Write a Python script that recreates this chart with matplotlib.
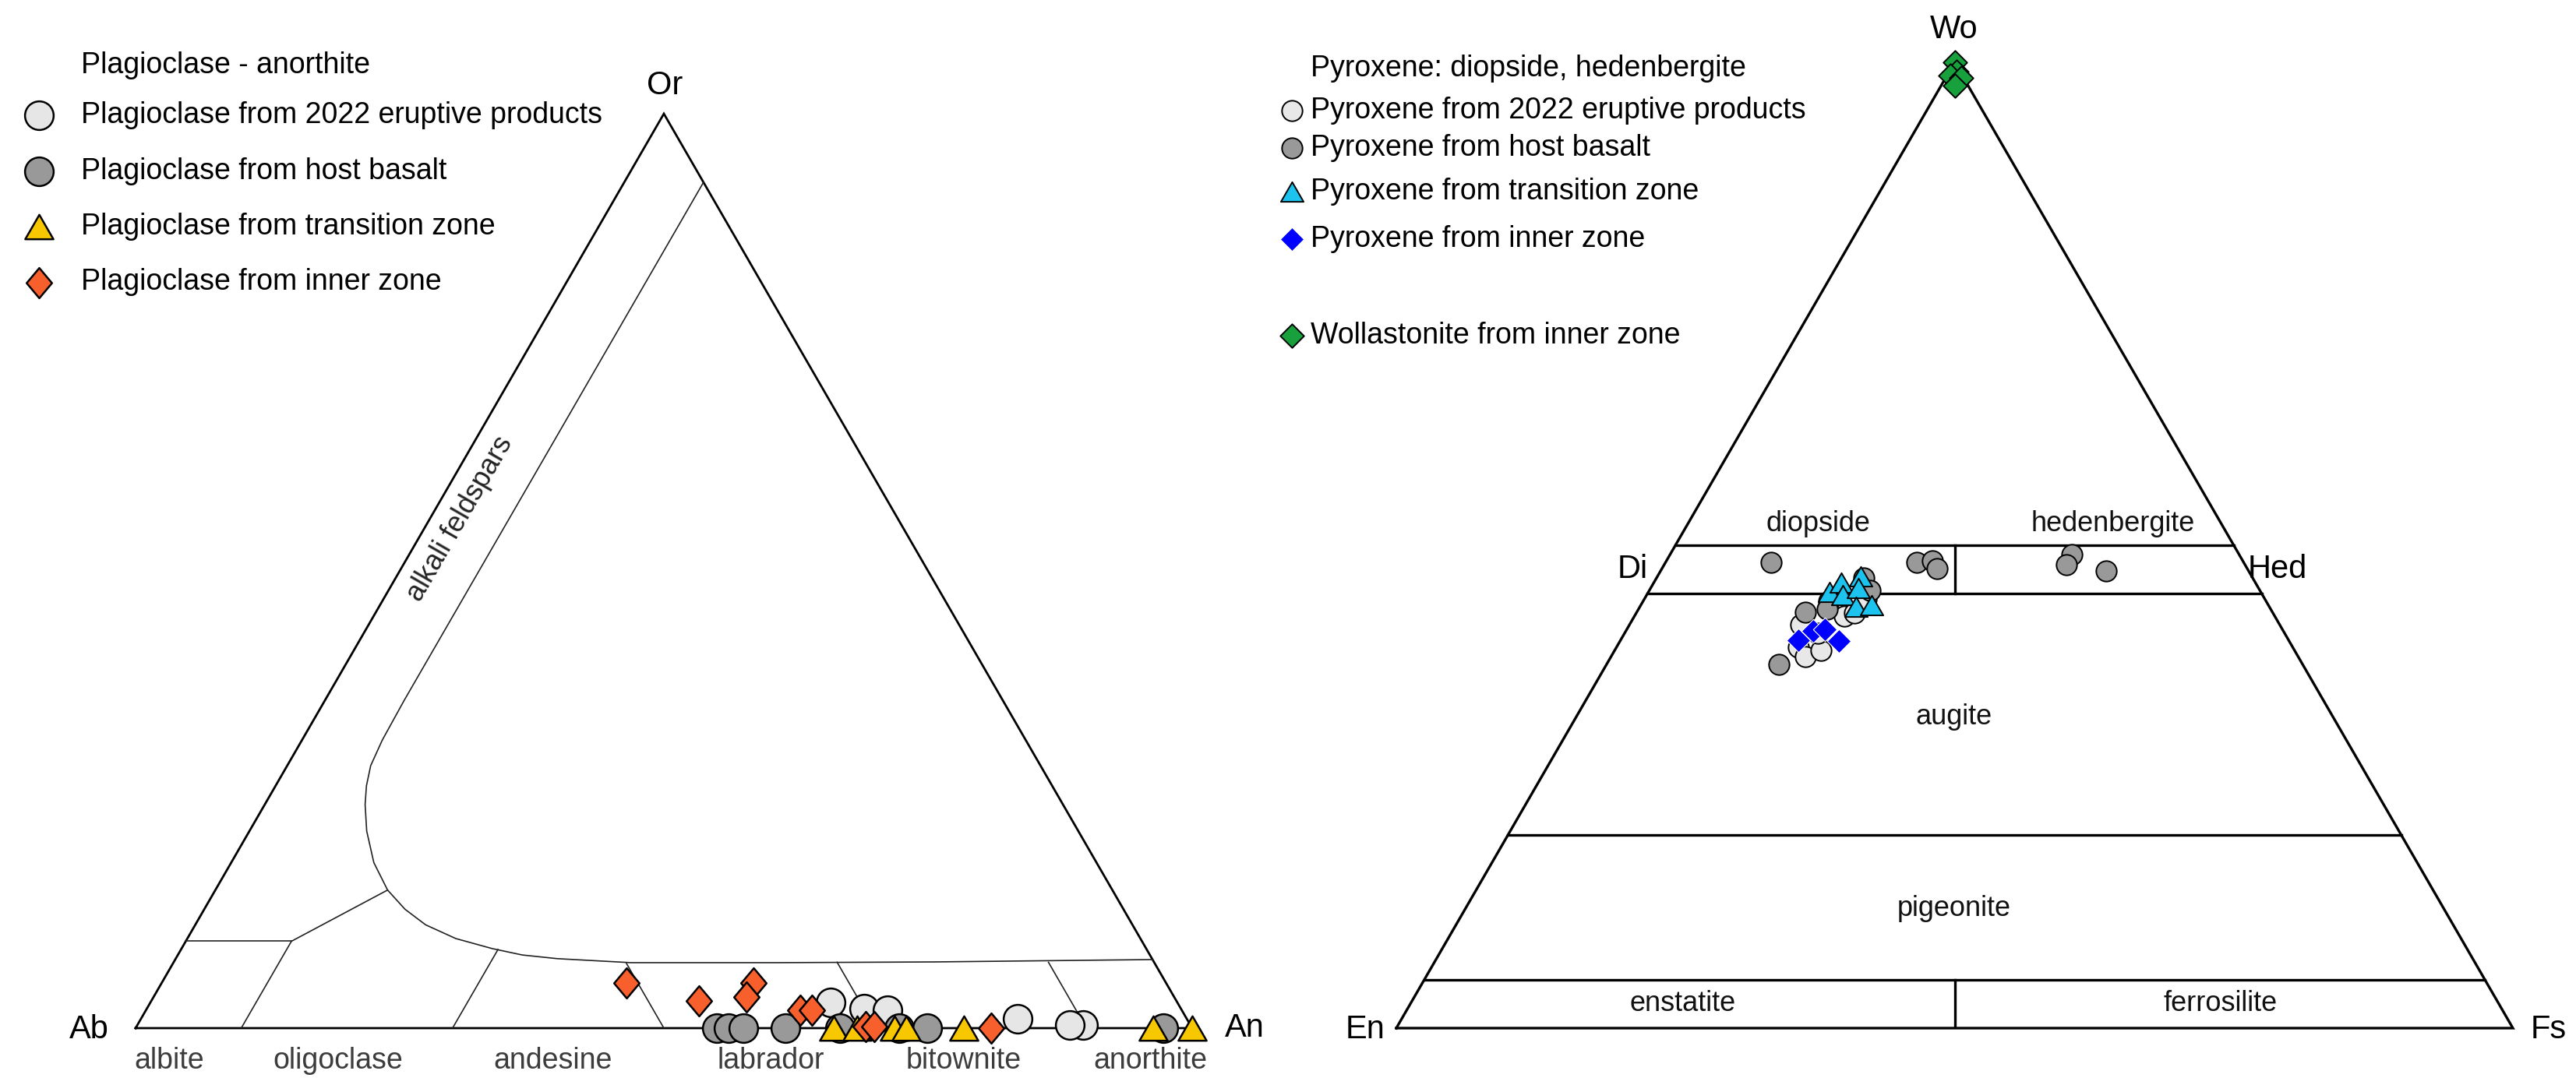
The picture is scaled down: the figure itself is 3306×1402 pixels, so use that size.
import numpy as np
import matplotlib.pyplot as plt
from matplotlib.path import Path
from matplotlib.markers import MarkerStyle

plt.rcParams['font.family'] = ['Liberation Sans', 'DejaVu Sans']

# ---------------- data ----------------
# plagioclase, mol% (Ab = 100 - An - Or)
plag_2022_an = [64.4, 67.9, 70.2, 83.0, 89.5, 88.3]
plag_2022_or = [2.8, 2.1, 2.0, 1.0, 0.3, 0.3]
plag_host_an = [55.0, 56.1, 57.5, 61.5, 66.7, 72.3, 74.9, 97.3]
plag_host_or = [0.0, 0.0, 0.0, 0.0, 0.0, 0.0, 0.0, 0.0]
plag_trans_an = [66.1, 68.3, 71.8, 72.9, 78.4, 96.3, 100.0]
plag_trans_or = [0.0, 0.0, 0.0, 0.0, 0.0, 0.0, 0.0]
plag_inner_an = [44.0, 51.8, 56.0, 56.1, 61.9, 63.0, 69.0, 69.8, 81.0]
plag_inner_or = [4.9, 3.0, 4.9, 3.4, 2.0, 2.0, 0.2, 0.2, 0.0]

# pyroxene, mol% (En = 100 - Wo - Fs)
px_2022_wo = [41.8, 39.4, 38.5, 39.1, 40.9, 42.7, 43.0, 44.4, 44.2]
px_2022_fs = [15.3, 16.3, 17.4, 18.5, 17.3, 18.8, 19.5, 19.9, 16.6]
px_host_wo = [48.2, 48.2, 48.4, 47.6, 46.6, 45.3, 43.1, 43.4, 37.7, 49.0, 48.0, 47.3]
px_host_fs = [9.5, 22.5, 23.8, 24.6, 18.6, 19.8, 15.1, 16.9, 15.4, 36.0, 36.0, 39.9]
px_trans_wo = [45.2, 46.1, 44.8, 46.8, 45.6, 43.6, 43.8]
px_trans_fs = [16.2, 16.8, 17.6, 18.2, 18.6, 19.4, 20.7]
px_inner_wo = [40.2, 41.1, 41.3, 40.1]
px_inner_fs = [15.9, 16.8, 17.7, 19.6]
wol_wo = [100.0, 99.0, 98.6, 98.4, 97.6]
wol_fs = [0.0, 0.7, 0.3, 1.4, 1.2]

# feldspar field boundary (An, Or)
solvus_an = [7.5, 7.5, 7.6, 7.9, 8.6, 9.5, 11.1, 13.5, 16.3, 19.0, 21.8, 25.4, 29.4,
             32.6, 36.1, 43.3, 57.3, 72.0, 92.5]
solvus_or = [92.5, 35.8, 31.5, 28.7, 26.5, 24.45, 21.55, 18.1, 15.1, 13.0, 11.3, 9.8, 8.7,
             8.0, 7.6, 7.16, 7.16, 7.24, 7.5]
plag_dividers = [([10, 10], [0, 9.5]), ([0, 10], [9.5, 9.5]), ([10, 16.3], [9.5, 15.1]),
                 ([30, 30], [0, 8.6]), ([50, 42.9], [0, 7.1]), ([70, 62.8], [0, 7.2]),
                 ([90, 82.8], [0, 7.2])]
plag_fields = ['albite', 'oligoclase', 'andesine', 'labrador', 'bitownite', 'anorthite']
wo_lines = [50, 45, 20, 5]

legend_plag = ['Plagioclase from 2022 eruptive products', 'Plagioclase from host basalt',
               'Plagioclase from transition zone', 'Plagioclase from inner zone']
legend_px = ['Pyroxene from 2022 eruptive products', 'Pyroxene from host basalt',
             'Pyroxene from transition zone', 'Pyroxene from inner zone',
             'Wollastonite from inner zone']

SQ = np.sqrt(3) / 2
FW, FH = 3306, 1402


def tern(right, top):
    right = np.asarray(right, dtype=float) / 100
    top = np.asarray(top, dtype=float) / 100
    return right + top / 2, top * SQ


def closed(verts):
    return Path(verts + [verts[0]], [Path.MOVETO] + [Path.LINETO] * (len(verts) - 1) + [Path.CLOSEPOLY])


TRI = MarkerStyle(closed([(0, 0.866), (-1, -0.866), (1, -0.866)]), joinstyle='miter')
DIA = MarkerStyle(closed([(0, 1), (0.84, 0), (0, -1), (-0.84, 0)]), joinstyle='miter')
SQD = MarkerStyle(closed([(0, 1), (1, 0), (0, -1), (-1, 0)]), joinstyle='miter')

plag_styles = [
    dict(marker='o', s=700, facecolor='#e6e6e6', edgecolor='black', linewidth=1.8),
    dict(marker='o', s=700, facecolor='#999999', edgecolor='black', linewidth=1.8),
    dict(marker=TRI, s=680, facecolor='#f7c800', edgecolor='black', linewidth=1.8),
    dict(marker=DIA, s=780, facecolor='#f7602c', edgecolor='black', linewidth=1.8),
]
px_styles = [
    dict(marker='o', s=360, facecolor='#e8e8e8', edgecolor='black', linewidth=1.4),
    dict(marker='o', s=360, facecolor='#999999', edgecolor='black', linewidth=1.4),
    dict(marker=TRI, s=440, facecolor='#1cc3ee', edgecolor='black', linewidth=1.4),
    dict(marker=SQD, s=480, facecolor='#0000ff', edgecolor='white', linewidth=0.8),
    dict(marker=SQD, s=480, facecolor='#17a03c', edgecolor='black', linewidth=1.4),
]

fig = plt.figure(figsize=(FW / 100, FH / 100), dpi=100)


def tri_axes(x0, x1, ybase, yapex):
    ax = fig.add_axes([x0 / FW, 1 - ybase / FH, (x1 - x0) / FW, (ybase - yapex) / FH])
    ax.set_xlim(0, 1)
    ax.set_ylim(0, SQ)
    ax.axis('off')
    return ax


axL = tri_axes(174, 1530, 1320, 146)
axR = tri_axes(1792, 3225, 1320, 80)
key = fig.add_axes([0, 0, 1, 1])
key.set_xlim(0, FW)
key.set_ylim(FH, 0)
key.axis('off')

# ---------- left: feldspar ----------
x, y = tern([0, 100, 0, 0], [0, 0, 100, 0])
axL.plot(x, y, color='black', lw=2.0, solid_joinstyle='miter', clip_on=False)
x, y = tern(solvus_an, solvus_or)
axL.plot(x, y, color='#222222', lw=1.2)
for a, o in plag_dividers:
    x, y = tern(a, o)
    axL.plot(x, y, color='#222222', lw=1.2)

plag_sets = [(plag_2022_an, plag_2022_or), (plag_host_an, plag_host_or),
             (plag_trans_an, plag_trans_or), (plag_inner_an, plag_inner_or)]
for (a, o), st in zip(plag_sets, plag_styles):
    x, y = tern(a, o)
    axL.scatter(x, y, clip_on=False, zorder=3, **st)

# ---------- right: pyroxene quadrilateral ----------
x, y = tern([0, 100, 0, 0], [0, 0, 100, 0])
axR.plot(x, y, color='black', lw=2.4, solid_joinstyle='miter', clip_on=False)
for w in wo_lines:
    x, y = tern([0, 100 - w], [w, w])
    axR.plot(x, y, color='black', lw=2.4)
x, y = tern([25, 27.5], [50, 45])
axR.plot(x, y, color='black', lw=2.4)
x, y = tern([50, 47.5], [0, 5])
axR.plot(x, y, color='black', lw=2.4)

px_sets = [(px_2022_fs, px_2022_wo), (px_host_fs, px_host_wo), (px_trans_fs, px_trans_wo),
           (px_inner_fs, px_inner_wo), (wol_fs, wol_wo)]
for (f, w), st in zip(px_sets, px_styles):
    x, y = tern(f, w)
    axR.scatter(x, y, clip_on=False, zorder=3, **st)

# ---------- labels ----------
lab = dict(fontsize=30, color='black')
key.text(853, 110, 'Or', ha='center', va='center', **lab)
key.text(140, 1322, 'Ab', ha='right', va='center', **lab)
key.text(1572, 1320, 'An', ha='left', va='center', **lab)
for name, xc in zip(plag_fields, [217, 434, 710, 989, 1237, 1476]):
    key.text(xc, 1362, name, ha='center', va='center', fontsize=27, color='#3c3c3c')
key.text(590, 666, 'alkali feldspars', rotation=60, ha='center', va='center',
         fontsize=26, color='#222222')

key.text(2508, 38, 'Wo', ha='center', va='center', **lab)
key.text(1778, 1322, 'En', ha='right', va='center', **lab)
key.text(3248, 1322, 'Fs', ha='left', va='center', **lab)
key.text(2115, 731, 'Di', ha='right', va='center', **lab)
key.text(2885, 731, 'Hed', ha='left', va='center', **lab)
fl = dict(fontsize=26, color='#111111', ha='center', va='center')
key.text(2333, 672, 'diopside', **fl)
key.text(2712, 672, 'hedenbergite', **fl)
key.text(2508, 921, 'augite', **fl)
key.text(2508, 1166, 'pigeonite', **fl)
key.text(2160, 1288, 'enstatite', **fl)
key.text(2850, 1288, 'ferrosilite', **fl)

# ---------- legends ----------
key.text(104, 84, 'Plagioclase - anorthite', ha='left', va='center', fontsize=27)
for i, (txt, st) in enumerate(zip(legend_plag, plag_styles)):
    yy = 148 + 71.5 * i
    key.scatter([50], [yy], **st)
    key.text(104, yy, txt, ha='left', va='center', fontsize=27)

key.text(1682, 88, 'Pyroxene: diopside, hedenbergite', ha='left', va='center', fontsize=27)
for yy, txt, st in zip([142, 190, 246, 307, 431], legend_px, px_styles):
    key.scatter([1658], [yy], **st)
    key.text(1682, yy, txt, ha='left', va='center', fontsize=27)

fig.savefig('out.png', dpi=100, facecolor='white')
